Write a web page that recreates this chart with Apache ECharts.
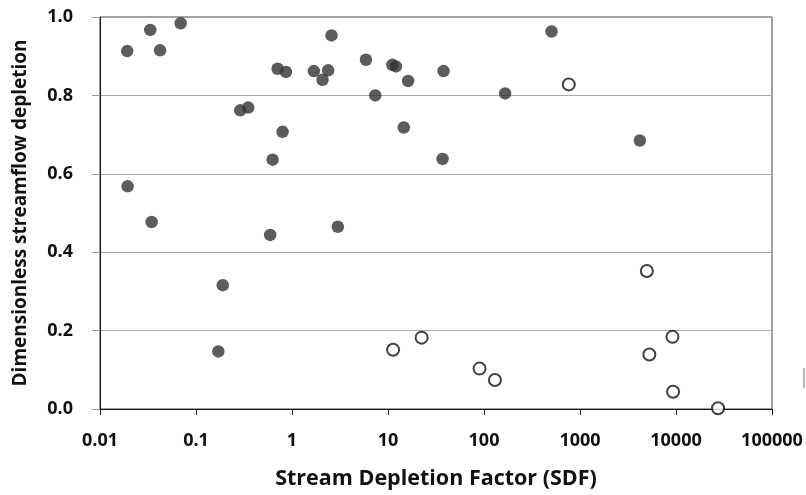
<!DOCTYPE html>
<html>
<head>
<meta charset="utf-8">
<script src="https://cdn.jsdelivr.net/npm/echarts@6/dist/echarts.min.js"></script>
<style>
html,body{margin:0;padding:0;background:#fff;}
#chart{width:806px;height:495px;}
</style>
</head>
<body>
<div id="chart"></div>
<script>
// Filled circles (observed)
var filledSDF = [0.0192, 0.0334, 0.0422, 0.0692, 0.0194, 0.0345, 0.289, 0.350, 0.708, 0.865, 0.798, 0.628, 0.593,
  1.69, 2.08, 2.38, 2.58, 3.00, 5.89, 7.36, 11.1, 12.1, 14.6, 16.2, 37.9, 37.0, 166, 505, 4200, 0.190, 0.171];
var filledDepletion = [0.913, 0.967, 0.915, 0.984, 0.568, 0.477, 0.762, 0.769, 0.868, 0.860, 0.707, 0.636, 0.444,
  0.862, 0.840, 0.864, 0.953, 0.465, 0.891, 0.800, 0.878, 0.874, 0.718, 0.837, 0.862, 0.638, 0.805, 0.963, 0.685, 0.316, 0.147];
// Open circles
var openSDF = [764, 11.3, 22.4, 89.9, 130, 4970, 5280, 9190, 9320, 27400];
var openDepletion = [0.828, 0.151, 0.182, 0.103, 0.074, 0.352, 0.139, 0.184, 0.044, 0.002];

var xTickLabels = ['0.01', '0.1', '1', '10', '100', '1000', '10000', '100000'];
var yTickLabels = ['0.0', '0.2', '0.4', '0.6', '0.8', '1.0'];

function pairs(xs, ys) { return xs.map(function (x, i) { return [x, ys[i]]; }); }

var FONT = 'Open Sans';
var chart = echarts.init(document.getElementById('chart'), null, {renderer: 'canvas'});
chart.setOption({
  animation: false,
  backgroundColor: '#fff',
  grid: {left: 100, right: 34, top: 17, bottom: 83, show: true, borderColor: '#444', borderWidth: 1},
  xAxis: {
    type: 'log', logBase: 10, min: 0.01, max: 100000,
    name: 'Stream Depletion Factor (SDF)', nameLocation: 'middle', nameGap: 59,
    nameTextStyle: {fontFamily: FONT, fontWeight: 'bold', fontSize: 21.5, color: '#111'},
    axisLine: {lineStyle: {color: '#111', width: 1}},
    axisTick: {show: true, length: 6, lineStyle: {color: '#111'}},
    minorTick: {show: false},
    splitLine: {show: false},
    axisLabel: {
      margin: 23, fontFamily: FONT, fontWeight: 'bold', fontSize: 18, color: '#111',
      formatter: function (v) {
        var e = Math.round(Math.log10(v));
        return xTickLabels[e + 2] !== undefined ? xTickLabels[e + 2] : '';
      }
    }
  },
  yAxis: {
    type: 'value', min: 0, max: 1, interval: 0.2,
    name: 'Dimensionless streamflow depletion', nameLocation: 'middle', nameGap: 70,
    nameTextStyle: {fontFamily: FONT, fontWeight: 'bold', fontSize: 19, color: '#111'},
    axisLine: {show: true, lineStyle: {color: '#111', width: 1}},
    axisTick: {show: true, length: 8, lineStyle: {color: '#999'}},
    splitLine: {show: true, lineStyle: {color: '#aaa', width: 1}},
    axisLabel: {
      margin: 27, fontFamily: FONT, fontWeight: 'bold', fontSize: 18, color: '#111',
      formatter: function (v) { return yTickLabels[Math.round(v / 0.2)]; }
    }
  },
  graphic: [{type: 'rect', shape: {x: 803, y: 368, width: 2, height: 20}, style: {fill: '#bbb'}}],
  series: [
    {
      type: 'scatter', name: 'filled', data: pairs(filledSDF, filledDepletion),
      symbol: 'circle', symbolSize: 12.5,
      itemStyle: {color: '#333'}
    },
    {
      type: 'scatter', name: 'open', data: pairs(openSDF, openDepletion),
      symbol: 'circle', symbolSize: 12,
      itemStyle: {color: '#fff', borderColor: '#111', borderWidth: 2}
    }
  ]
});
</script>
</body>
</html>
